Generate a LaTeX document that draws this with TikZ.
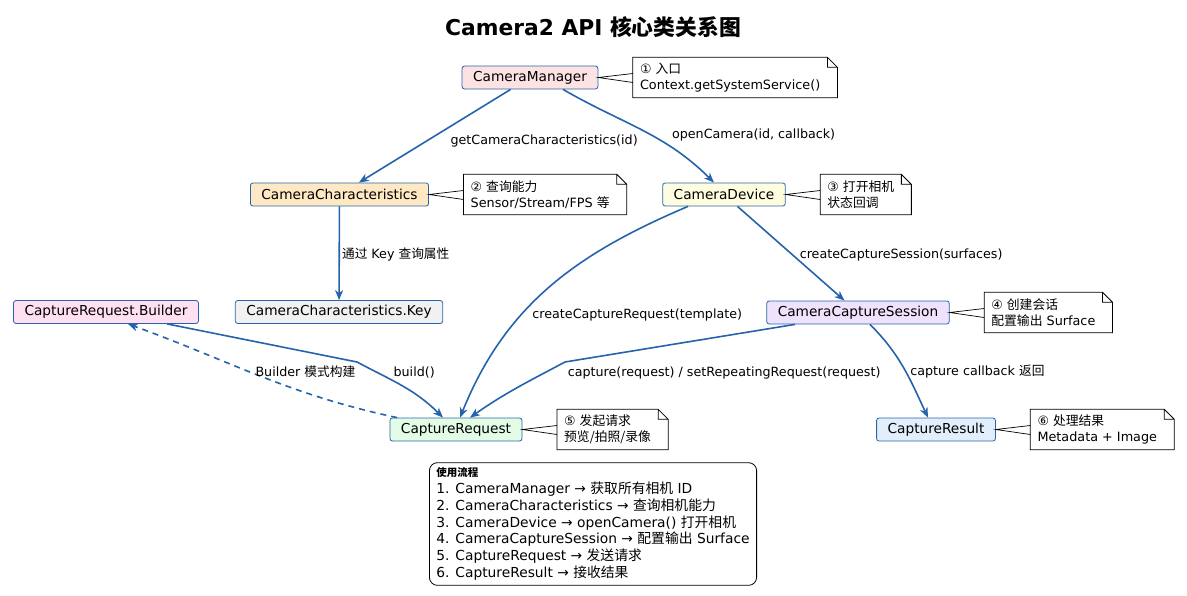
\documentclass[tikz,border=0pt]{standalone}
\usepackage{fontspec}
\setmainfont{DejaVu Sans}
\newfontfamily\zhfont{Noto Sans CJK SC}
\newcommand\zh[1]{{\zhfont #1}}
\usetikzlibrary{arrows.meta,positioning}

\begin{document}
\begin{tikzpicture}[x=1pt,y=-1pt,>={Stealth[length=10pt,width=8pt,inset=3pt]},
  cls/.style={draw=clsline,line width=0.8pt,rounded corners=2.5pt,minimum height=23pt,
    inner xsep=11pt,inner ysep=0pt,font=\fontsize{13.7}{16}\selectfont},
  call/.style={->,draw=arrowc,line width=1.6pt},
  lbl/.style={font=\fontsize{12.7}{15}\selectfont,inner sep=2pt},
  note/.style={inner xsep=7pt,inner ysep=3pt,align=left,minimum height=40pt,
    font=\fontsize{12.8}{16}\selectfont,
    append after command={\pgfextra{\let\notenode\tikzlastnode
      \draw[line width=0.8pt] (\notenode.south west) -- (\notenode.north west)
        -- (\notenode.north east) -- ([shift={(10pt,-10pt)}]\notenode.north east)
        -- ([xshift=10pt]\notenode.south east) -- cycle
        (\notenode.north east) |- ([shift={(10pt,-10pt)}]\notenode.north east);}}},
  wedge/.style={draw=black,line width=0.7pt}]
\definecolor{clsline}{RGB}{40,100,170}
\definecolor{arrowc}{RGB}{37,99,171}
\definecolor{mgrfill}{RGB}{252,226,226}
\definecolor{charfill}{RGB}{255,233,196}
\definecolor{devfill}{RGB}{255,253,224}
\definecolor{bldfill}{RGB}{255,224,240}
\definecolor{keyfill}{RGB}{241,241,241}
\definecolor{sesfill}{RGB}{238,226,252}
\definecolor{reqfill}{RGB}{226,252,230}
\definecolor{resfill}{RGB}{226,238,252}
\useasboundingbox (0,0) rectangle (1187,595);

\node[font=\fontsize{21.8}{25}\selectfont\bfseries] (title) at (593,27)
  {Camera2 API \zh{核心类关系图}};

% classes
\node[cls,fill=mgrfill] (mgr) at (530,77.5) {CameraManager};
\node[cls,fill=charfill] (chars) at (339.5,194.5) {CameraCharacteristics};
\node[cls,fill=devfill] (dev) at (724,194.5) {CameraDevice};
\node[cls,fill=bldfill] (builder) at (106,312) {CaptureRequest.Builder};
\node[cls,fill=keyfill] (key) at (339,312) {CameraCharacteristics.Key};
\node[cls,fill=sesfill] (session) at (858,312.5) {CameraCaptureSession};
\node[cls,fill=reqfill] (request) at (456,429.5) {CaptureRequest};
\node[cls,fill=resfill] (result) at (936,429.5) {CaptureResult};

% notes, hung on the right of their class
\node[note,right=34.5pt of mgr] (mgrnote) {① \zh{入口}\\Context.getSystemService()};
\node[note,right=34.5pt of chars] (charnote) {② \zh{查询能力}\\Sensor/Stream/FPS \zh{等}};
\node[note,right=34.5pt of dev] (devnote) {③ \zh{打开相机}\\\zh{状态回调}};
\node[note,right=34.5pt of session] (sesnote) {④ \zh{创建会话}\\\zh{配置输出} Surface};
\node[note,right=34.5pt of request] (reqnote) {⑤ \zh{发起请求}\\\zh{预览/拍照/录像}};
\node[note,right=34.5pt of result] (resnote) {⑥ \zh{处理结果}\\Metadata + Image};
\draw[wedge] ([yshift=4pt]mgrnote.west) -- (mgr.east) -- ([yshift=-5pt]mgrnote.west);
\draw[wedge] ([yshift=4pt]charnote.west) -- (chars.east) -- ([yshift=-5pt]charnote.west);
\draw[wedge] ([yshift=4pt]devnote.west) -- (dev.east) -- ([yshift=-5pt]devnote.west);
\draw[wedge] ([yshift=4pt]sesnote.west) -- (session.east) -- ([yshift=-5pt]sesnote.west);
\draw[wedge] ([yshift=4pt]reqnote.west) -- (request.east) -- ([yshift=-5pt]reqnote.west);
\draw[wedge] ([yshift=4pt]resnote.west) -- (result.east) -- ([yshift=-5pt]resnote.west);

% calls
\draw[call] (mgr) -- node[lbl,midway,anchor=west,xshift=13pt,yshift=-5pt] (lchars)
  {getCameraCharacteristics(id)} (chars);
\draw[call] ([xshift=33pt]mgr.south) to[out=-30,in=135]
  node[lbl,pos=0.56,anchor=west,xshift=18pt] (lopen) {openCamera(id, callback)}
  ([xshift=-10pt]dev.north);
\draw[call] (chars) -- node[lbl,midway,anchor=west,yshift=-1pt] (lkey)
  {\zh{通过} Key \zh{查询属性}} (key);
\draw[call] (dev) -- node[lbl,midway,anchor=west,xshift=6pt,yshift=-1pt] (lsession)
  {createCaptureSession(surfaces)} (session);
\draw[call] ([xshift=-36pt]dev.south) to[out=203,in=68]
  node[lbl,pos=0.62,anchor=west,xshift=6pt,yshift=-2pt] (ltemplate) {createCaptureRequest(template)}
  ([xshift=4pt]request.north);

\coordinate (bbend) at (357,362);
\draw[call] ([xshift=61pt]builder.south) -- (bbend) to[out=-28,in=135]
  node[lbl,pos=0.2,anchor=west,xshift=14pt] (lbuild) {build()}
  ([xshift=-13pt]request.north);
\draw[call,dash pattern=on 6pt off 5pt] ([xshift=-59pt]request.north) to[out=168,in=-20]
  node[lbl,pos=0.55,anchor=west,xshift=4pt] (lpattern) {Builder \zh{模式构建}}
  ([xshift=22pt]builder.south);

\coordinate (sbend) at (565,362);
\draw[call] ([xshift=-63pt]session.south) --
  node[lbl,pos=1,anchor=west,yshift=-11pt] (lcapture)
  {capture(request) / setRepeatingRequest(request)} (sbend)
  to[out=208,in=35] ([xshift=14pt]request.north);
\draw[call] ([xshift=12pt]session.south) to[out=-45,in=115]
  node[lbl,pos=0.5,anchor=west,xshift=4pt,yshift=-4pt] (lcallback) {capture callback \zh{返回}}
  ([xshift=-8pt]result.north);

% usage flow
\node[draw,rounded corners=8pt,line width=0.8pt,align=left,inner xsep=7pt,inner ysep=5pt,
  font=\fontsize{13.8}{16.8}\selectfont] (flow) at (593,524)
  {{\fontsize{10.5}{12}\selectfont\bfseries\zh{使用流程}}\\
   1. CameraManager → \zh{获取所有相机} ID\\
   2. CameraCharacteristics → \zh{查询相机能力}\\
   3. CameraDevice → openCamera() \zh{打开相机}\\
   4. CameraCaptureSession → \zh{配置输出} Surface\\
   5. CaptureRequest → \zh{发送请求}\\
   6. CaptureResult → \zh{接收结果}};
\end{tikzpicture}
\end{document}
